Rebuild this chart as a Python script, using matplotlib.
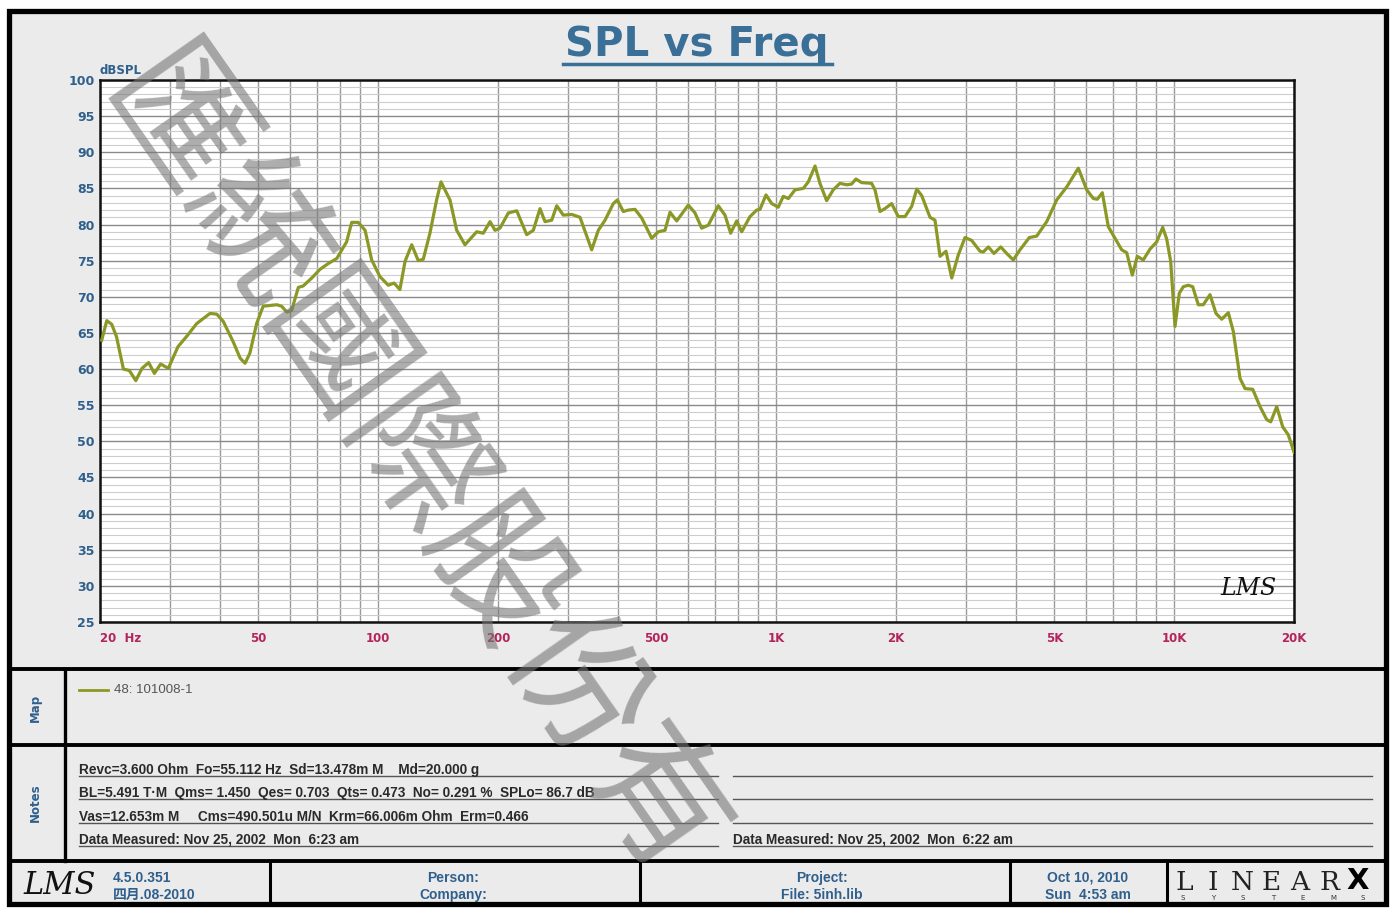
import matplotlib
matplotlib.use("Agg")
import matplotlib.pyplot as plt
from matplotlib.patches import Rectangle
from matplotlib.ticker import FixedLocator, NullFormatter

# data (frequency in Hz, level in dBSPL)
freq = [20.2, 20.8, 21.4, 22.0, 22.9, 23.7, 24.6, 25.5, 26.5, 27.4, 28.4, 29.7,
        31.4, 33.0, 35.0, 37.8, 39.3, 40.8, 43.2, 45.0, 46.3, 47.6, 49.5, 51.4,
        55.6, 57.2, 58.9, 60.6, 63.0, 64.8, 68.1, 71.4, 74.9, 78.7, 83.3, 85.8,
        89.1, 92.7, 96.3, 101, 106, 109.6, 113.4, 116.8, 121.4, 126.1, 129.8,
        134.9, 140.2, 143.8, 151.5, 157.5, 165.2, 176.8, 183.7, 191.0, 196.6,
        202.3, 212.3, 222.9, 236.1, 245.3, 255.0, 262.5, 272.9, 280.9, 291.8,
        306.3, 321.4, 343.9, 357.3, 371.5, 389.7, 398.9, 412.9, 425.0, 441.9,
        459.3, 486.7, 505.6, 525.6, 541.0, 562.4, 601.4, 625.2, 649.8, 675.1,
        715.3, 743.6, 768.5, 795.7, 819.1, 859.4, 893.4, 910.6, 942.7, 974.4,
        1012, 1042, 1073, 1115, 1170, 1204, 1252, 1288, 1339, 1391, 1446, 1503,
        1547, 1586, 1640, 1737, 1771, 1823, 1876, 1950, 2027, 2107, 2190, 2255,
        2321, 2435, 2506, 2580, 2671, 2761, 2868, 2981, 3099, 3252, 3314, 3412,
        3526, 3665, 3795, 3942, 4098, 4325, 4514, 4783, 5068, 5370, 5743, 6029,
        6263, 6410, 6598, 6831, 7100, 7381, 7598, 7848, 8078, 8364, 8694, 9038,
        9357, 9576, 9800, 10047, 10300, 10542, 10850, 11130, 11497, 11834, 12302,
        12737, 13164, 13677, 14080, 14636, 15066, 15752, 16432, 17082, 17482,
        18099, 18736, 19352, 20000]
spl = [64.0, 66.7, 66.2, 64.5, 60.0, 59.8, 58.4, 60.1, 60.9, 59.4, 60.7, 60.1,
       63.1, 64.5, 66.3, 67.7, 67.6, 66.6, 63.8, 61.5, 60.8, 62.2, 66.3, 68.7,
       68.9, 68.7, 67.9, 68.1, 71.3, 71.5, 72.6, 73.8, 74.6, 75.3, 77.6, 80.3,
       80.3, 79.2, 75.1, 72.8, 71.6, 71.9, 71.0, 74.9, 77.2, 75.0, 75.2,
       78.8, 83.4, 85.9, 83.4, 79.2, 77.2, 79.0, 78.8, 80.4, 79.2,
       79.5, 81.6, 81.9, 78.6, 79.2, 82.2, 80.4, 80.6, 82.6, 81.3,
       81.4, 81.0, 76.5, 79.2, 80.6, 82.9, 83.4, 81.8, 82.0, 82.1,
       80.9, 78.1, 79.0, 79.2, 81.7, 80.5, 82.7, 81.6, 79.5, 79.9,
       82.6, 81.3, 78.8, 80.5, 79.0, 81.1, 82.0, 82.1, 84.1, 82.9,
       82.4, 83.9, 83.6, 84.8, 85.0, 85.9, 88.1, 85.7, 83.3, 84.8, 85.7, 85.5,
       85.6, 86.3, 85.8, 85.7, 84.8, 81.8, 82.2, 82.9, 81.1, 81.1, 82.5, 84.9,
       84.0, 81.0, 80.6, 75.6, 76.3, 72.6, 75.8, 78.2, 77.8, 76.3, 76.2, 76.9,
       76.0, 76.9, 76.0, 75.1, 76.5, 78.2, 78.4, 80.4, 83.4, 85.2, 87.8, 84.8,
       83.6, 83.5, 84.4, 79.7, 78.1, 76.5, 76.1, 73.0, 75.6, 75.1, 76.6, 77.6,
       79.6, 78.0, 74.9, 65.9, 70.5, 71.4, 71.6, 71.4, 68.9, 68.9, 70.3,
       67.7, 66.9, 67.8, 65.2, 58.7, 57.3, 57.2, 54.8, 53.0, 52.7,
       54.8, 52.0, 50.9, 48.5]

x_ticks = [20, 50, 100, 200, 500, 1000, 2000, 5000, 10000, 20000]
x_labels = ["20  Hz", "50", "100", "200", "500", "1K", "2K", "5K", "10K", "20K"]
y_ticks = list(range(25, 101, 5))

notes_left = ["Revc=3.600 Ohm  Fo=55.112 Hz  Sd=13.478m M    Md=20.000 g",
              "BL=5.491 T\u00b7M  Qms= 1.450  Qes= 0.703  Qts= 0.473  No= 0.291 %  SPLo= 86.7 dB",
              "Vas=12.653m M     Cms=490.501u M/N  Krm=66.006m Ohm  Erm=0.466",
              "Data Measured: Nov 25, 2002  Mon  6:23 am"]
notes_right = ["", "", "", "Data Measured: Nov 25, 2002  Mon  6:22 am"]
legend_label = "48: 101008-1"
watermark = "匯統國際股份有"

W, H = 1394, 909
LINE = "#8c9826"
BLUE = "#2f5f8c"
RED = "#b3245c"
plt.rcParams['font.family'] = ['DejaVu Sans', 'Noto Sans CJK TC']

fig = plt.figure(figsize=(W / 100, H / 100), dpi=100, facecolor="white")

# background panel drawing in pixel coordinates
bg = fig.add_axes([0, 0, 1, 1], zorder=-1)
bg.set_xlim(0, W)
bg.set_ylim(H, 0)
bg.axis("off")
bg.add_patch(Rectangle((9, 11), 1377, 893, facecolor="#ebebeb", edgecolor="black", lw=3.8))
for yy in [669, 745, 861]:
    bg.plot([9, 1386], [yy, yy], color="black", lw=2.8, solid_capstyle="butt")
bg.plot([65, 65], [669, 861], color="black", lw=2.4)
for xx in [270, 640, 1010, 1167]:
    bg.plot([xx, xx], [861, 904], color="black", lw=2.2)

bg.text(35, 708, "Map", rotation=90, ha="center", va="center", color=BLUE,
        fontsize=8.5, fontweight="bold")
bg.text(35, 803, "Notes", rotation=90, ha="center", va="center", color=BLUE,
        fontsize=8.5, fontweight="bold")

# legend entry
bg.plot([79, 108], [690, 690], color=LINE, lw=2)
bg.text(114, 690, legend_label, ha="left", va="center", color="#555555",
        fontsize=9.5, family="Liberation Sans")

# notes rows
for i, (tl, tr) in enumerate(zip(notes_left, notes_right)):
    yy = 770 + i * 23.3
    bg.plot([79, 718], [yy + 6, yy + 6], color="#555555", lw=1)
    bg.plot([733, 1372], [yy + 6, yy + 6], color="#555555", lw=1)
    bg.text(79, yy + 4, tl, ha="left", va="baseline", color="#2a2a2a",
            fontsize=9.8, fontweight="bold", family=["Liberation Sans", "Noto Sans CJK TC"])
    bg.text(733, yy + 4, tr, ha="left", va="baseline", color="#2a2a2a",
            fontsize=9.8, fontweight="bold", family="Liberation Sans")

# footer
fk = dict(color=BLUE, fontsize=10, fontweight="bold",
          family=["Liberation Sans", "Noto Sans CJK TC"])
bg.text(60, 886, "LMS", ha="center", va="center", fontsize=22, style="italic",
        family="DejaVu Serif", color="#111111")
bg.text(113, 878, "4.5.0.351", ha="left", va="center", **fk)
bg.text(113, 895, "四月.08-2010", ha="left", va="center", **fk)
bg.text(453, 878, "Person:", ha="center", va="center", **fk)
bg.text(453, 895, "Company:", ha="center", va="center", **fk)
bg.text(822, 878, "Project:", ha="center", va="center", **fk)
bg.text(822, 895, "File: 5inh.lib", ha="center", va="center", **fk)
bg.text(1088, 878, "Oct 10, 2010", ha="center", va="center", **fk)
bg.text(1088, 895, "Sun  4:53 am", ha="center", va="center", **fk)
for i, ch in enumerate("LINEAR"):
    bg.text(1184 + i * 29, 882, ch, ha="center", va="center", fontsize=19,
            family="DejaVu Serif", color="#222222", fontweight="light")
bg.text(1358, 881, "X", ha="center", va="center", fontsize=21,
        fontweight="heavy", color="black")
for i, ch in enumerate("SYSTEMS"):
    bg.text(1183 + i * 30, 898, ch, ha="center", va="center", fontsize=5,
            color="#333333")

# title
bg.text(697, 45, "SPL vs Freq", ha="center", va="center", color="#3a6f98",
        fontsize=29, fontweight="bold")
bg.plot([563, 832], [64, 64], color="#3a6f98", lw=2.5)

# main chart
ax = fig.add_axes([100 / W, 1 - 622 / H, 1194 / W, 542 / H])
ax.set_facecolor("white")
ax.set_xscale("log")
ax.set_xlim(20, 20000)
ax.set_ylim(25, 100)

minor_x = [m * d for d in [10, 100, 1000, 10000] for m in range(1, 10)
           if 20 <= m * d <= 20000]
ax.xaxis.set_major_locator(FixedLocator(x_ticks))
ax.set_xticklabels(x_labels)
ax.xaxis.set_minor_locator(FixedLocator(minor_x))
ax.xaxis.set_minor_formatter(NullFormatter())
ax.set_yticks(y_ticks)
ax.set_yticks(range(25, 101), minor=True)

ax.grid(True, which="major", axis="x", color="#9a9a9a", lw=1.0)
ax.grid(True, which="minor", axis="x", color="#9a9a9a", lw=1.0)
ax.grid(True, which="major", axis="y", color="#8a8a8a", lw=1.0)
ax.grid(True, which="minor", axis="y", color="#cdcdcd", lw=0.8)
ax.set_axisbelow(True)

ax.tick_params(which="both", length=0)
ax.tick_params(axis="x", pad=7, labelsize=8.5, labelcolor=RED)
ax.tick_params(axis="y", pad=4, labelsize=9, labelcolor=BLUE)
for lab in ax.get_xticklabels() + ax.get_yticklabels():
    lab.set_fontweight("bold")
ax.get_xticklabels()[0].set_horizontalalignment("left")
for s in ax.spines.values():
    s.set_linewidth(1.8)
    s.set_color("#111111")

ax.plot(freq, spl, color=LINE, lw=2.3, zorder=3)
ax.text(0.0, 1.005, "dBSPL", transform=ax.transAxes, ha="left", va="bottom",
        color=BLUE, fontsize=8.5, fontweight="bold")
ax.text(0.962, 0.04, "LMS", transform=ax.transAxes, ha="center", va="bottom",
        fontsize=17, style="italic", family="DejaVu Serif", color="#111111")

# watermark
fig.text(410 / W, 1 - 470 / H, watermark, rotation=-55, rotation_mode="anchor",
         ha="center", va="center", fontsize=100, color="#767676", alpha=0.6,
         family="Noto Sans CJK TC", fontweight="medium", zorder=10)

fig.savefig("out.png", dpi=100, facecolor="white")
